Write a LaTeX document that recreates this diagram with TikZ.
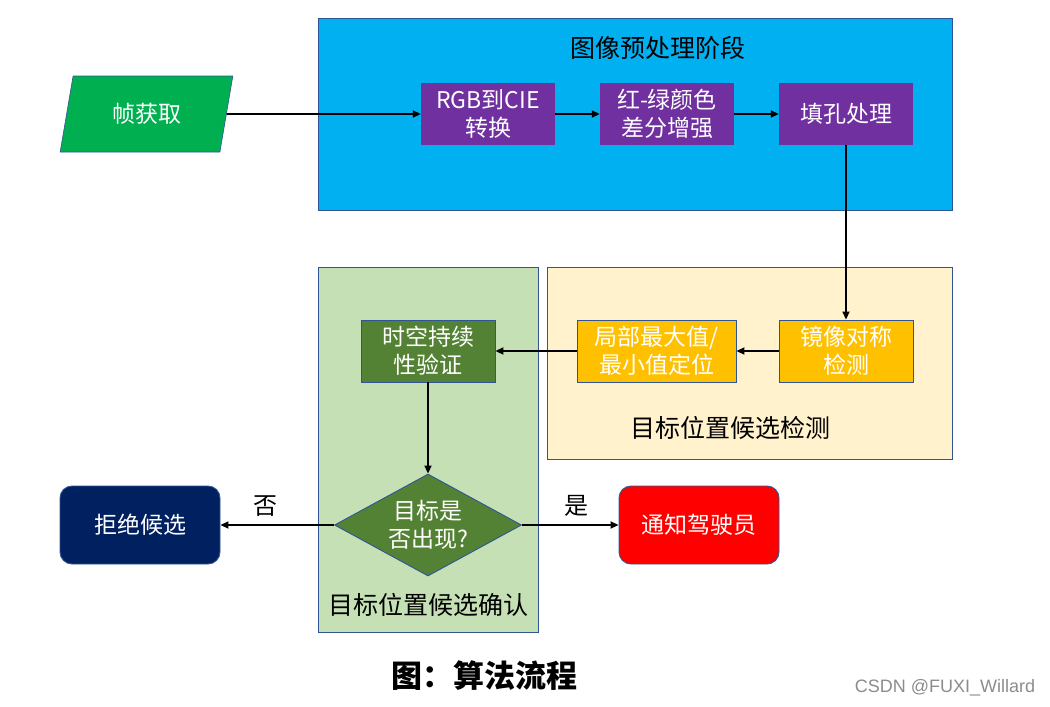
\documentclass[tikz,border=0pt]{standalone}
\usepackage{fontspec}
\setmainfont{Noto Sans CJK SC}
\newfontfamily\wmfont{Liberation Sans}
\usetikzlibrary{shapes.geometric,arrows.meta}
\definecolor{cblue}{HTML}{00B0F0}
\definecolor{cpurple}{HTML}{7030A0}
\definecolor{cgreen}{HTML}{00B050}
\definecolor{cyellowbg}{HTML}{FFF2CC}
\definecolor{corange}{HTML}{FFC000}
\definecolor{cgreenbg}{HTML}{C5E0B4}
\definecolor{cdgreen}{HTML}{548235}
\definecolor{cnavy}{HTML}{002060}
\definecolor{cred}{HTML}{FF0000}
\definecolor{cedge}{HTML}{2F5597}
\tikzset{
  panel/.style={draw=cedge, line width=0.9pt, anchor=north west, inner sep=0pt},
  boxfont/.style={font=\fontsize{23}{28}\selectfont},
  pbox/.style={fill=cpurple, text=white, minimum width=134pt, minimum height=62pt, inner sep=0pt, align=center, boxfont},
  obox/.style={fill=corange, draw=cedge, line width=0.9pt, text=white, minimum height=62pt, inner sep=0pt, align=center, boxfont},
  rbox/.style={draw=cedge, line width=0.9pt, rounded corners=12pt, text=white, minimum width=160pt, minimum height=78pt, inner sep=0pt, align=center, boxfont},
  conn/.style={line width=1.8pt, -{Triangle[length=8pt,width=7pt]}},
  lbl/.style={font=\fontsize{25}{30}\selectfont, text=black},
}
\begin{document}
\begin{tikzpicture}[x=1pt,y=-1pt]
\useasboundingbox (0,0) rectangle (1050,707);
% panels
\node[panel, fill=cblue, minimum width=634pt, minimum height=192pt] (pre) at (318,18) {};
\node[panel, fill=cyellowbg, minimum width=405pt, minimum height=192pt] (det) at (547,267) {};
\node[panel, fill=cgreenbg, minimum width=220pt, minimum height=365pt] (conf) at (318,267) {};
\node[lbl] (pretitle) at (658,48) {图像预处理阶段};
\node[lbl] (dettitle) at (730,428) {目标位置候选检测};
\node[lbl] (conftitle) at (428,605) {目标位置候选确认};
% input
\node[trapezium, trapezium left angle=74, trapezium right angle=106, fill=cgreen, draw=cedge, line width=0.6pt, minimum width=173pt, minimum height=76pt, inner sep=0pt, text=white, boxfont, trapezium stretches=true] (frame) at (146.5,114) {帧获取};
% preprocessing
\node[pbox] (rgb) at (488,114) {RGB到CIE\\转换};
\node[pbox] (rg) at (667,114) {红-绿颜色\\差分增强};
\node[pbox] (fill) at (846,114) {填孔处理};
% detection
\node[obox, minimum width=134pt] (mirror) at (846,351) {镜像对称\\检测};
\node[obox, minimum width=159pt] (local) at (656.5,351) {局部最大值/\\最小值定位};
% confirmation
\node[obox, fill=cdgreen, minimum width=134pt] (verify) at (428,351) {时空持续\\性验证};
\node[diamond, aspect=1.84, fill=cdgreen, draw=cedge, line width=0.9pt, minimum width=187pt, minimum height=102pt, inner sep=0pt, text=white, align=center, boxfont] (dec) at (428,525) {目标是\\否出现?};
\node[rbox, fill=cnavy] (reject) at (140,525) {拒绝候选};
\node[rbox, fill=cred] (notify) at (699,525) {通知驾驶员};
% connectors
\draw[conn] (frame.east) -- (rgb.west);
\draw[conn] (rgb.east) -- (rg.west);
\draw[conn] (rg.east) -- (fill.west);
\draw[conn] (fill.south) -- (mirror.north);
\draw[conn] (mirror.west) -- (local.east);
\draw[conn] (local.west) -- (verify.east);
\draw[conn] (verify.south) -- (dec.north);
\draw[conn] (dec.west) -- (reject.east) node[lbl, font=\fontsize{24}{28}\selectfont, pos=0.6, above=4pt] (no) {否};
\draw[conn] (dec.east) -- (notify.west) node[lbl, font=\fontsize{24}{28}\selectfont, pos=0.56, above=4pt] (yes) {是};
% caption
\node[font=\fontsize{31}{36}\selectfont\bfseries] (cap) at (484,676) {图：算法流程};
\node[font=\wmfont\fontsize{18}{21}\selectfont, text=black!45] (wm) at (945,688) {CSDN @FUXI\_Willard};
\end{tikzpicture}
\end{document}
